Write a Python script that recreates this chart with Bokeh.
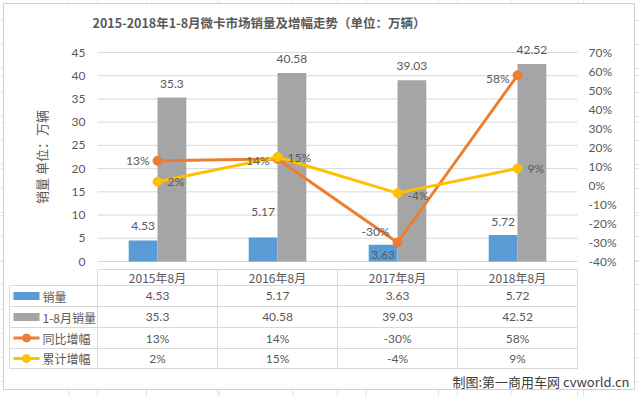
from bokeh.plotting import figure
from bokeh.models import (ColumnDataSource, Range1d, LinearAxis, FixedTicker,
                          NumeralTickFormatter)
from bokeh.core.properties import value
from bokeh.embed import file_html
from bokeh.resources import INLINE

# ---------------- data ----------------
categories = ["2015年8月", "2016年8月", "2017年8月", "2018年8月"]
monthly_sales = [4.53, 5.17, 3.63, 5.72]
ytd_sales = [35.3, 40.58, 39.03, 42.52]
yoy_growth = [0.13, 0.14, -0.30, 0.58]
ytd_growth = [0.02, 0.15, -0.04, 0.09]
series_names = ["销量", "1-8月销量", "同比增幅", "累计增幅"]
left_ticks = [0, 5, 10, 15, 20, 25, 30, 35, 40, 45]
right_ticks = [-0.4, -0.3, -0.2, -0.1, 0.0, 0.1, 0.2, 0.3, 0.4, 0.5, 0.6, 0.7]
title_text = "2015-2018年1-8月微卡市场销量及增幅走势（单位：万辆）"
y_label = "销量 单位：万辆"
credit = "制图:第一商用车网 cvworld.cn"

# ---------------- style / layout ----------------
BLUE, GRAY, ORANGE, YELLOW = "#5B9BD5", "#A5A5A5", "#ED7D31", "#FFC000"
TXT, GRID = "#595959", "#D9D9D9"
CJK, NUM = "Noto Sans CJK SC", "Lato"
W, H = 639, 396
PLOT_L, PLOT_R, PLOT_T, PLOT_B = 97, 577, 52, 261
n = len(categories)
CAT_W = (PLOT_R - PLOT_L) / n
YMIN, YMAX = left_ticks[0], left_ticks[-1]
PMIN, PMAX = right_ticks[0], right_ticks[-1]
py_per = (PLOT_B - PLOT_T) / (YMAX - YMIN)
pp_per = (PLOT_B - PLOT_T) / (PMAX - PMIN)


def fmt_num(v):
    return f"{v:g}"


def fmt_pct(v):
    return f"{round(v * 100)}%"


xc = [i + 0.5 for i in range(n)]
BW = 0.24

src = ColumnDataSource(dict(
    x=xc, xb=[v - BW / 2 for v in xc], xg=[v + BW / 2 for v in xc],
    sales=monthly_sales, ytd=ytd_sales, yoy=yoy_growth, ytdg=ytd_growth,
    sales_lbl=[fmt_num(v) for v in monthly_sales],
    ytd_lbl=[fmt_num(v) for v in ytd_sales],
    yoy_lbl=[fmt_pct(v) for v in yoy_growth],
    ytdg_lbl=[fmt_pct(v) for v in ytd_growth],
    # label placement (styling, as in the reference)
    sales_dy=[-14, -25, 10, -13],
    yoy_dy=[0, 2, -11, 3],
    ytdg_dy=[0, 0, 2, 0],
))

p = figure(x_range=Range1d(-PLOT_L / CAT_W, (W - PLOT_L) / CAT_W),
           y_range=Range1d(YMIN - (H - PLOT_B) / py_per,
                           YMAX + PLOT_T / py_per),
           width=W, height=H, output_backend="svg", toolbar_location=None,
           x_axis_location=None, y_axis_location=None,
           min_border_left=0, min_border_right=0, min_border_top=0,
           min_border_bottom=0)
p.outline_line_color = None
p.background_fill_color = "white"
p.border_fill_color = "white"
p.extra_x_ranges = {"px": Range1d(0, W)}
p.extra_y_ranges = {
    "pct": Range1d(PMIN - (H - PLOT_B) / pp_per, PMAX + PLOT_T / pp_per),
    "py": Range1d(H, 0),
}
PX = dict(x_range_name="px", y_range_name="py")

# worksheet cells behind the chart
sheet_cols = [68.5, 146, 219, 292.5, 365.5, 438, 510.5, 583]
sheet_rows = [20, 44, 68, 92, 116, 140, 164, 188, 212, 236, 260, 284, 309,
              333, 357, 381]
p.segment(x0=sheet_cols, y0=[0] * len(sheet_cols), x1=sheet_cols,
          y1=[H] * len(sheet_cols), line_color="#E1E1E1", line_width=1, **PX)
p.segment(x0=[0] * len(sheet_rows), y0=sheet_rows, x1=[W] * len(sheet_rows),
          y1=sheet_rows, line_color="#E1E1E1", line_width=1, **PX)
# chart area
p.quad(left=[3], right=[634], top=[3], bottom=[389], fill_color="white",
       line_color="#D0D0D0", line_width=1, **PX)

# title
p.text(x=[92], y=[22], text=[title_text], text_align="left",
       text_baseline="middle", text_font=value(CJK), text_font_size="12.5px",
       text_font_style="bold", text_color=TXT, **PX)

# horizontal gridlines
p.segment(x0=[0] * len(left_ticks), y0=left_ticks,
          x1=[n] * len(left_ticks), y1=left_ticks,
          line_color=GRID, line_width=1)

# axes (drawn at the plot-area edges)
yl = LinearAxis(fixed_location=0, ticker=FixedTicker(ticks=left_ticks),
                bounds=(YMIN, YMAX),
                axis_line_color=None, major_tick_line_color=None,
                minor_tick_line_color=None, major_tick_out=0, major_tick_in=0,
                major_label_standoff=12,
                major_label_text_font=NUM, major_label_text_font_size="12px",
                major_label_text_color=TXT,
                axis_label=y_label, axis_label_standoff=18,
                axis_label_text_font=CJK, axis_label_text_font_size="13px",
                axis_label_text_font_style="normal", axis_label_text_color=TXT)
p.add_layout(yl, "left")
yr = LinearAxis(fixed_location=n, y_range_name="pct",
                ticker=FixedTicker(ticks=right_ticks), bounds=(PMIN, PMAX),
                formatter=NumeralTickFormatter(format="0%"),
                axis_line_color=None, major_tick_line_color=None,
                minor_tick_line_color=None, major_tick_out=0, major_tick_in=0,
                major_label_standoff=11,
                major_label_text_font=NUM, major_label_text_font_size="12px",
                major_label_text_color=TXT)
p.add_layout(yr, "right")

# bars
p.vbar(x="xb", bottom=0, top="sales", width=BW, fill_color=BLUE,
       line_color=None, source=src)
p.vbar(x="xg", bottom=0, top="ytd", width=BW, fill_color=GRAY,
       line_color=None, source=src)

# lines
for col, c in (("yoy", ORANGE), ("ytdg", YELLOW)):
    p.line(x="x", y=col, y_range_name="pct", line_color=c, line_width=3,
           source=src)
    p.scatter(x="x", y=col, y_range_name="pct", size=9, fill_color=c,
              line_color=c, source=src)

lbl = dict(text_font=value(NUM), text_font_size="12px", text_color=TXT,
           text_baseline="middle", source=src)
p.text(x="xb", y="sales", text="sales_lbl", y_offset="sales_dy",
       text_align="center", **lbl)
p.text(x="xg", y="ytd", text="ytd_lbl", y_offset=-14, text_align="center",
       **lbl)
p.text(x="x", y="yoy", y_range_name="pct", text="yoy_lbl", x_offset=-8,
       y_offset="yoy_dy", text_align="right", **lbl)
p.text(x="x", y="ytdg", y_range_name="pct", text="ytdg_lbl", x_offset=10,
       y_offset="ytdg_dy", text_align="left", **lbl)

# ---------------- data table ----------------
row_edges = [269, 285, 306, 327, 348, 368]
legend_left = 9
# horizontal rules
p.segment(x0=[PLOT_L], y0=[row_edges[0]], x1=[PLOT_R], y1=[row_edges[0]],
          line_color=GRID, **PX)
p.segment(x0=[legend_left] * 5, y0=row_edges[1:], x1=[PLOT_R] * 5,
          y1=row_edges[1:], line_color=GRID, **PX)
# vertical rules
p.segment(x0=[legend_left], y0=[row_edges[1]], x1=[legend_left],
          y1=[row_edges[-1]], line_color=GRID, **PX)
p.segment(x0=list(range(n + 1)), y0=[row_edges[0]] * (n + 1),
          x1=list(range(n + 1)), y1=[row_edges[-1]] * (n + 1),
          line_color=GRID, y_range_name="py")

row_mid = [(row_edges[k] + row_edges[k + 1]) / 2 for k in range(5)]
p.text(x=xc, y=[row_mid[0]] * n, text=categories, text_align="center",
       text_baseline="middle", text_font=value(CJK), text_font_size="12px",
       text_color=TXT, y_range_name="py")
rows = [[fmt_num(v) for v in monthly_sales],
        [fmt_num(v) for v in ytd_sales],
        [fmt_pct(v) for v in yoy_growth],
        [fmt_pct(v) for v in ytd_growth]]
for r, vals in enumerate(rows):
    p.text(x=xc, y=[row_mid[r + 1]] * n, text=vals, text_align="center",
           text_baseline="middle", text_font=value(NUM),
           text_font_size="12px", text_color=TXT, y_range_name="py")

# legend keys in the first column
kx0, kx1 = 13, 39
kx = (kx0 + kx1) / 2
p.quad(left=[kx0, kx0], right=[kx1, kx1],
       top=[row_mid[1] - 4, row_mid[2] - 4],
       bottom=[row_mid[1] + 4, row_mid[2] + 4],
       fill_color=[BLUE, GRAY], line_color=None, **PX)
for r, c in ((3, ORANGE), (4, YELLOW)):
    p.line(x=[kx0, kx1], y=[row_mid[r]] * 2, line_color=c, line_width=3, **PX)
    p.scatter(x=[kx], y=[row_mid[r]], size=8, fill_color=c, line_color=c,
              **PX)
p.text(x=[42] * 4, y=row_mid[1:], text=series_names, text_align="left",
       text_baseline="middle", text_font=value(CJK), text_font_size="12px",
       text_color=TXT, **PX)

p.text(x=[629], y=[381], text=[credit], text_align="right",
       text_baseline="middle", text_font=value(CJK), text_font_size="13px",
       text_color="#404040", **PX)

open("out.html", "w").write(file_html(p, INLINE))
